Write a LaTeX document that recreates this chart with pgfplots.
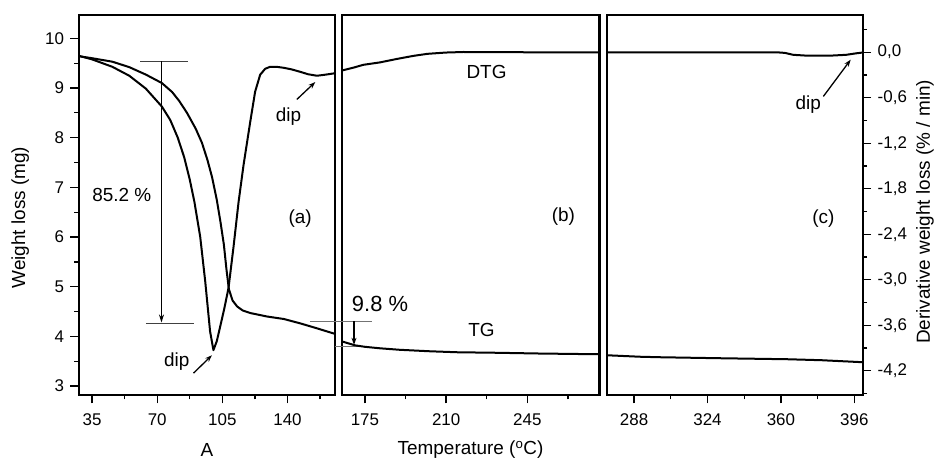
\documentclass[border=0pt]{standalone}
\usepackage{pgfplots}
\pgfplotsset{compat=1.18}
\usetikzlibrary{arrows.meta}
\usepackage{fontspec}
\setmainfont{Liberation Sans}

\pgfplotstableread{
x w
28 9.64
35 9.60
45.9 9.53
55 9.42
63.9 9.27
72.5 9.10
78 8.92
81.8 8.74
86 8.50
90.7 8.18
94 7.90
97 7.55
99.5 7.20
102 6.75
104 6.30
105.8 5.85
107.2 5.35
108.5 4.95
110.5 4.72
113 4.60
116 4.52
120 4.47
129 4.40
138 4.35
147 4.26
156 4.16
165.5 4.05
}\tgA

\pgfplotstableread{
x d
28 -0.049
35 -0.095
45.9 -0.193
55 -0.311
63.9 -0.481
72.5 -0.717
77 -0.894
81 -1.124
84.5 -1.386
87.5 -1.681
90 -1.976
93.1 -2.434
95.8 -3.024
98.4 -3.680
100.2 -3.929
102 -3.811
103.8 -3.621
106 -3.385
108.3 -3.110
111 -2.566
113.7 -1.976
116.4 -1.484
120 -0.914
122.6 -0.521
125.3 -0.298
128 -0.219
130.7 -0.193
134 -0.193
137.9 -0.206
142 -0.226
146.8 -0.259
151 -0.291
155.8 -0.311
160 -0.298
165.5 -0.278
}\dtgA

\pgfplotstableread{
x w
165 3.90
170.7 3.82
175 3.79
181.5 3.76
190 3.73
203 3.70
215 3.68
231.7 3.67
250 3.655
276 3.64
}\tgB

\pgfplotstableread{
x d
165 -0.243
170 -0.205
174.3 -0.167
181.5 -0.135
188.7 -0.090
195.9 -0.049
202 -0.022
210 -0.005
217.5 0.002
230 0.000
250 -0.002
276 -0.004
}\dtgB

\pgfplotstableread{
x w
274.6 3.62
291 3.59
300.8 3.58
330 3.56
363 3.54
380 3.52
400.1 3.48
}\tgC

\pgfplotstableread{
x d
274.6 -0.003
300 -0.003
330 -0.002
358 -0.002
362 -0.010
366 -0.035
372 -0.045
385 -0.045
392 -0.035
397 -0.015
400.1 -0.005
}\dtgC

\tikzset{
  ann/.style={font=\fontsize{19}{22}\selectfont},
  curve/.style={line width=2bp, black, no marks, line join=round},
}
\pgfplotsset{
  base/.style={
    scale only axis, height=380bp, anchor=south west,
    axis line style={line width=2.4bp},
    tick style={line width=1.3bp, black},
    tick align=outside,
    major tick length=8.5bp, minor tick length=4.5bp,
    ticklabel style={font=\fontsize{17}{20}\selectfont},
    xticklabel style={yshift=-7bp},
    /pgf/number format/assume math mode=true,
    label style={font=\fontsize{19}{22}\selectfont},
    xtick pos=bottom,
    clip=false,
  },
  tg/.style={base, ymin=2.82, ymax=10.47},
  dtg/.style={base, ymin=-4.52, ymax=0.49},
}

\begin{document}
\begin{tikzpicture}[x=1bp,y=1bp]
\path[use as bounding box] (0,0) rectangle (934,459);

% ---------- panel (a) ----------
\begin{axis}[tg, at={(79bp,64bp)}, width=256bp,
  xmin=28, xmax=165.5,
  xtick={35,70,105,140}, minor xtick={52.5,87.5,122.5,157.5},
  ytick={3,4,5,6,7,8,9,10}, minor ytick={3.5,4.5,5.5,6.5,7.5,8.5,9.5},
  ytick pos=left,
  yticklabel style={xshift=-3bp},
  xlabel={A}, ylabel={Weight loss (mg)},
  xlabel style={at={(axis description cs:0.5,-0.145)}, anchor=center},
  ylabel style={at={(axis description cs:-0.23,0.467)}, anchor=center},
]
\addplot[curve] table[x=x,y=w] {\tgA};
\draw[line width=0.9bp, black!75] (axis cs:60.8,9.54) -- (axis cs:86.8,9.54);
\draw[line width=0.9bp, black!75] (axis cs:63.9,4.26) -- (axis cs:89.5,4.26);
\draw[line width=1bp, -{Stealth[length=8bp,width=5bp]}] (axis cs:72.3,9.54) -- (axis cs:72.3,4.28);
\node[ann] at (axis cs:51,6.84) {85.2 \%};
\node[ann] at (axis cs:146.8,6.37) {(a)};
\node[ann] at (axis cs:80.5,3.50) {dip};
\draw[line width=1.3bp, -{Stealth[length=7bp,width=5bp]}] (axis cs:89.5,3.26) -- (axis cs:99.4,3.62);
\node[ann] at (axis cs:140.5,8.43) {dip};
\draw[line width=1.3bp, -{Stealth[length=7bp,width=5bp]}] (axis cs:145,8.77) -- (axis cs:154.9,9.12);
\end{axis}
\begin{axis}[dtg, at={(79bp,64bp)}, width=256bp, xmin=28, xmax=165.5, hide axis]
\addplot[curve] table[x=x,y=d] {\dtgA};
\end{axis}

% ---------- panel (b) ----------
\begin{axis}[tg, at={(341.7bp,64bp)}, width=257.6bp,
  xmin=165, xmax=276,
  xtick={175,210,245}, minor xtick={192.5,227.5,262.5},
  ytick=\empty,
  xlabel={Temperature (\textsuperscript{o}C)},
  xlabel style={at={(axis description cs:0.5,-0.145)}, anchor=center},
]
\draw[line width=0.8bp, black!55] (axis cs:151.3,4.30) -- (axis cs:178,4.30);
\draw[line width=0.8bp, black!55] (axis cs:162,3.80) -- (axis cs:176,3.80);
\addplot[curve] table[x=x,y=w] {\tgB};
\draw[line width=1.2bp, -{Stealth[length=7bp,width=5bp]}] (axis cs:170.3,4.30) -- (axis cs:170.3,3.83);
\node[font=\fontsize{22}{26}\selectfont] at (axis cs:181.5,4.66) {9.8 \%};
\node[ann] at (axis cs:227.4,9.32) {DTG};
\node[ann] at (axis cs:225.2,4.13) {TG};
\node[ann] at (axis cs:260.5,6.41) {(b)};
\end{axis}
\begin{axis}[dtg, at={(341.7bp,64bp)}, width=257.6bp, xmin=165, xmax=276, hide axis]
\addplot[curve] table[x=x,y=d] {\dtgB};
\end{axis}

% ---------- panel (c) ----------
\begin{axis}[tg, at={(606.7bp,64bp)}, width=256bp,
  xmin=274.6, xmax=400.1,
  xtick={288,324,360,396}, minor xtick={306,342,378},
  ytick=\empty,
]
\addplot[curve] table[x=x,y=w] {\tgC};
\node[ann] at (axis cs:380.8,6.37) {(c)};
\node[ann] at (axis cs:373.4,8.67) {dip};
\draw[line width=1.3bp, -{Stealth[length=7bp,width=5bp]}] (axis cs:380.8,8.83) -- (axis cs:394.2,9.57);
\end{axis}
\begin{axis}[dtg, at={(606.7bp,64bp)}, width=256bp, xmin=274.6, xmax=400.1,
  axis x line=none, axis y line*=right,
  ytick={0,-0.6,-1.2,-1.8,-2.4,-3,-3.6,-4.2},
  minor ytick={0.3,-0.3,-0.9,-1.5,-2.1,-2.7,-3.3,-3.9,-4.5},
  yticklabel style={xshift=3bp, /pgf/number format/.cd, fixed, fixed zerofill, precision=1, use comma},
  ylabel={Derivative weight loss (\% / min)},
  ylabel style={at={(axis description cs:1.243,0.482)}, anchor=center},
]
\addplot[curve] table[x=x,y=d] {\dtgC};
\end{axis}
\end{tikzpicture}
\end{document}
